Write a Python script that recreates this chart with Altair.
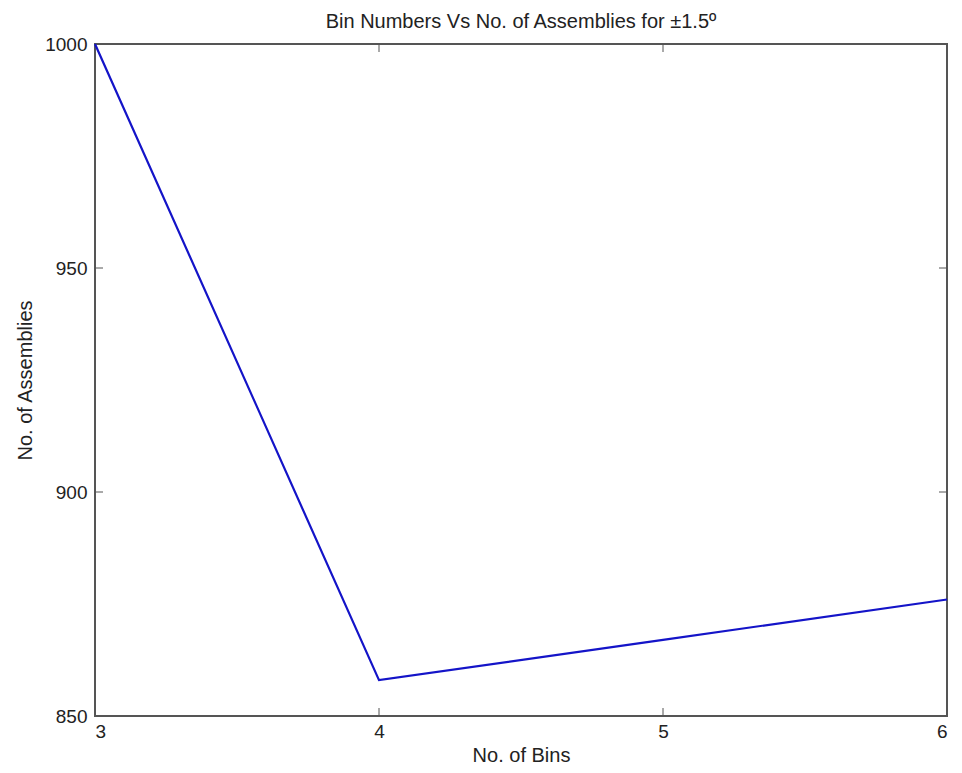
import altair as alt
import pandas as pd

bins = [3, 4, 5, 6]
assemblies = [1000, 858, 867, 876]
x_ticks = [3, 4, 5, 6]
y_ticks = [850, 900, 950, 1000]

df = pd.DataFrame({"bins": bins, "assemblies": assemblies})
W, H = 852, 672
FONT = "Liberation Sans"

xs = alt.Scale(domain=[3, 6], nice=False, zero=False)
ys = alt.Scale(domain=[850, 1000], nice=False, zero=False)

line = alt.Chart(df).mark_line(color="#1414C8", strokeWidth=2.2).encode(
    x=alt.X("bins:Q", scale=xs,
            axis=alt.Axis(title="No. of Bins", values=x_ticks, format="d",
                          tickSize=0, domain=False, grid=False, labelPadding=6,
                          labelFontSize=19, titleFontSize=20, titleFontWeight="normal",
                          titlePadding=4, labelColor="#222", titleColor="#222",
                          labelFont=FONT, titleFont=FONT)),
    y=alt.Y("assemblies:Q", scale=ys,
            axis=alt.Axis(title="No. of Assemblies", values=y_ticks, format="d",
                          tickSize=0, domain=False, grid=False, labelPadding=8,
                          labelFontSize=19, titleFontSize=20, titleFontWeight="normal",
                          titlePadding=9, labelColor="#222", titleColor="#222",
                          labelFont=FONT, titleFont=FONT)),
)

inner_x = pd.DataFrame({"t": [4, 5]})
inner_y = pd.DataFrame({"t": [900, 950]})
tick_color = "#555"
bt = alt.Chart(inner_x).mark_rule(color=tick_color).encode(
    x=alt.X("t:Q", scale=xs), y=alt.value(H), y2=alt.value(H - 8))
tt = alt.Chart(inner_x).mark_rule(color=tick_color).encode(
    x=alt.X("t:Q", scale=xs), y=alt.value(0), y2=alt.value(8))
lt = alt.Chart(inner_y).mark_rule(color=tick_color).encode(
    y=alt.Y("t:Q", scale=ys), x=alt.value(0), x2=alt.value(8))
rt = alt.Chart(inner_y).mark_rule(color=tick_color).encode(
    y=alt.Y("t:Q", scale=ys), x=alt.value(W), x2=alt.value(W - 8))

chart = alt.layer(line, bt, tt, lt, rt).properties(
    width=W, height=H,
    background="white",
    title=alt.TitleParams("Bin Numbers Vs No. of Assemblies for ±1.5º",
                          fontSize=20, fontWeight="normal", font=FONT,
                          color="#222", offset=3),
    autosize=alt.AutoSizeParams(type="none"),
    padding={"left": 87, "top": 36, "right": 7, "bottom": 49},
).configure_view(stroke="#555", strokeWidth=2)

chart.save("out.html", embed_options={"renderer": "svg", "actions": False})
